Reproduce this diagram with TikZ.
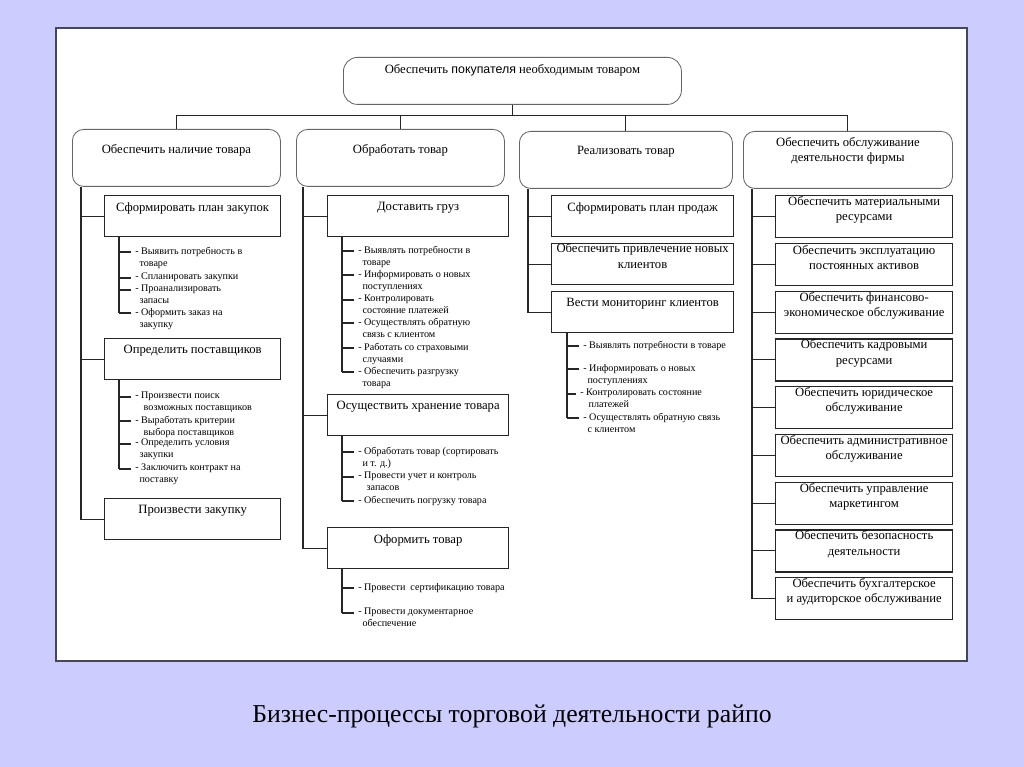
\documentclass[tikz,border=0pt]{standalone}
\usepackage{fontspec}
\setmainfont{Liberation Serif}
\newfontfamily\sansfnt{Liberation Sans}
\usetikzlibrary{positioning}
\definecolor{slidebg}{RGB}{204,204,255}
\definecolor{framecol}{RGB}{70,70,90}
\newcommand{\cont}{\hspace*{3pt}}
\begin{document}
\begin{tikzpicture}[x=0.025cm, y=-0.025cm,
    goalbox/.style={draw=black!60, line width=0.6pt, rounded corners=10pt, anchor=north west,
        minimum width=338*0.025cm, minimum height=47*0.025cm, inner sep=0pt},
    areabox/.style={draw=black!60, line width=0.6pt, rounded corners=8pt, anchor=north west,
        minimum width=#1*0.025cm, minimum height=57*0.025cm, inner sep=0pt},
    taskbox/.style={draw=black!85, line width=0.9pt, anchor=north west,
        minimum width=#1*0.025cm, minimum height=41*0.025cm, inner sep=0pt},
    boxtxt/.style={font=\fontsize{9}{10.8}\selectfont, align=center, inner sep=0pt},
    itemtxt/.style={font=\fontsize{7.2}{8.5}\selectfont, align=left, anchor=north west, inner sep=0pt},
    link/.style={draw=black!85, line width=0.8pt},
]
    % slide and frame
    \fill[slidebg] (0,0) rectangle (1024,767);
    \draw[framecol, line width=1pt, fill=white] (56,28) rectangle (967,661);

    % goal and the four areas
    \node[goalbox] (goal) at (343,57) {};
    \node[boxtxt] (goaltxt) at ([shift={(0,13)}]goal.north)
        {Обеспечить {\sansfnt\fontsize{8.8}{10}\selectfont покупателя} необходимым товаром};
    \node[areabox=208] (b1) at (72,129) {};
    \node[areabox=208] (b2) at (296,129) {};
    \node[areabox=213] (b3) at (519,131) {};
    \node[areabox=209] (b4) at (743,131) {};
    \node[boxtxt] (b1txt) at ([shift={(0,21)}]b1.north) {Обеспечить наличие товара};
    \node[boxtxt] (b2txt) at ([shift={(0,21)}]b2.north) {Обработать товар};
    \node[boxtxt] (b3txt) at ([shift={(0,21)}]b3.north) {Реализовать товар};
    \node[boxtxt] (b4txt) at ([shift={(0,20)}]b4.north) {Обеспечить обслуживание\\деятельности фирмы};
    \coordinate (bus) at ([shift={(0,11)}]goal.south);
    \draw[link] (goal.south) -- (bus);
    \foreach \b in {b1,b2,b3,b4}
        \draw[link] (\b.north) |- (bus);

    % column 1
    \node[taskbox=176] (a1) at (104,195) {};
    \node[taskbox=176] (a2) at (104,338) {};
    \node[taskbox=176] (a3) at (104,498) {};
    \node[boxtxt] (a1txt) at ([shift={(0,13)}]a1.north) {Сформировать план закупок};
    \node[boxtxt] (a2txt) at ([shift={(0,13)}]a2.north) {Определить поставщиков};
    \node[boxtxt] (a3txt) at ([shift={(0,13)}]a3.north) {Произвести закупку};
    \coordinate (t1) at ([shift={(9,0)}]b1.south west);
    \draw[link] (t1) |- (a3.west);
    \foreach \s in {a1,a2}
        \draw[link] (\s.west) -- (\s.west -| t1);

    \node[itemtxt] (p1) at (135,247) {- Выявить потребность в\\\cont товаре};
    \node[itemtxt] (p2) at (135,273) {- Спланировать закупки};
    \node[itemtxt] (p3) at (135,285) {- Проанализировать\\\cont запасы};
    \node[itemtxt] (p4) at (135,308) {- Оформить заказ на\\\cont закупку};
    \node[itemtxt] (q1) at (135,392) {- Произвести поиск\\\cont\cont возможных поставщиков};
    \node[itemtxt] (q2) at (135,416) {- Выработать критерии\\\cont\cont выбора поставщиков};
    \node[itemtxt] (q3) at (135,439) {- Определить условия\\\cont закупки};
    \node[itemtxt] (q4) at (135,464) {- Заключить контракт на\\\cont поставку};
    \coordinate (k1) at ([shift={(15,0)}]a1.south west);
    \coordinate (k2) at ([shift={(15,0)}]a2.south west);
    \foreach \s in {p1,p2,p3,p4} {
        \coordinate (tk\s) at ([shift={(-4,5)}]\s.north west);
        \draw[link] (tk\s) -- (tk\s -| k1);
    }
    \foreach \s in {q1,q2,q3,q4} {
        \coordinate (tk\s) at ([shift={(-4,5)}]\s.north west);
        \draw[link] (tk\s) -- (tk\s -| k2);
    }
    \draw[link] (k1) -- (k1 |- tkp4);
    \draw[link] (k2) -- (k2 |- tkq4);

    % column 2
    \node[taskbox=181] (c1) at (327,195) {};
    \node[taskbox=181] (c2) at (327,394) {};
    \node[taskbox=181] (c3) at (327,527) {};
    \node[boxtxt] (c1txt) at ([shift={(0,13)}]c1.north) {Доставить груз};
    \node[boxtxt] (c2txt) at ([shift={(0,13)}]c2.north) {Осуществить хранение товара};
    \node[boxtxt] (c3txt) at ([shift={(0,13)}]c3.north) {Оформить товар};
    \coordinate (t2) at ([shift={(7,0)}]b2.south west);
    \draw[link] (t2) |- (c3.west);
    \foreach \s in {c1,c2}
        \draw[link] (\s.west) -- (\s.west -| t2);

    \node[itemtxt] (r1) at (358,246) {- Выявлять потребности в\\\cont товаре};
    \node[itemtxt] (r2) at (358,270) {- Информировать о новых\\\cont поступлениях};
    \node[itemtxt] (r3) at (358,295) {- Контролировать\\\cont состояние платежей};
    \node[itemtxt] (r4) at (358,318) {- Осуществлять обратную\\\cont связь с клиентом};
    \node[itemtxt] (r5) at (358,343) {- Работать со страховыми\\\cont случаями};
    \node[itemtxt] (r6) at (358,367) {- Обеспечить разгрузку\\\cont товара};
    \node[itemtxt] (s1) at (358,447) {- Обработать товар (сортировать\\\cont и т. д.)};
    \node[itemtxt] (s2) at (358,472) {- Провести учет и контроль\\\cont\cont запасов};
    \node[itemtxt] (s3) at (358,496) {- Обеспечить погрузку товара};
    \node[itemtxt] (u1) at (358,583) {- Провести\ \ сертификацию товара};
    \node[itemtxt] (u2) at (358,608) {- Провести документарное\\\cont обеспечение};
    \coordinate (k3) at ([shift={(15,0)}]c1.south west);
    \coordinate (k4) at ([shift={(15,0)}]c2.south west);
    \coordinate (k5) at ([shift={(15,0)}]c3.south west);
    \foreach \s in {r1,r2,r3,r4,r5,r6} {
        \coordinate (tk\s) at ([shift={(-4,5)}]\s.north west);
        \draw[link] (tk\s) -- (tk\s -| k3);
    }
    \foreach \s in {s1,s2,s3} {
        \coordinate (tk\s) at ([shift={(-4,5)}]\s.north west);
        \draw[link] (tk\s) -- (tk\s -| k4);
    }
    \foreach \s in {u1,u2} {
        \coordinate (tk\s) at ([shift={(-4,5)}]\s.north west);
        \draw[link] (tk\s) -- (tk\s -| k5);
    }
    \draw[link] (k3) -- (k3 |- tkr6);
    \draw[link] (k4) -- (k4 |- tks3);
    \draw[link] (k5) -- (k5 |- tku2);

    % column 3
    \node[taskbox=182] (e1) at (551,195) {};
    \node[taskbox=182] (e2) at (551,243) {};
    \node[taskbox=182] (e3) at (551,291) {};
    \node[boxtxt] (e1txt) at ([shift={(0,13)}]e1.north) {Сформировать план продаж};
    \node[boxtxt] (e2txt) at ([shift={(0,13)}]e2.north) {Обеспечить привлечение новых\\клиентов};
    \node[boxtxt] (e3txt) at ([shift={(0,13)}]e3.north) {Вести мониторинг клиентов};
    \coordinate (t3) at ([shift={(9,0)}]b3.south west);
    \draw[link] (t3) |- (e3.west);
    \foreach \s in {e1,e2}
        \draw[link] (\s.west) -- (\s.west -| t3);

    \node[itemtxt] (v1) at (583,341) {- Выявлять потребности в товаре};
    \node[itemtxt] (v2) at (583,364) {- Информировать о новых\\\cont поступлениях};
    \node[itemtxt] (v3) at (580,389) {- Контролировать состояние\\\cont\cont платежей};
    \node[itemtxt] (v4) at (583,413) {- Осуществлять обратную связь\\\cont с клиентом};
    \coordinate (k6) at ([shift={(16,0)}]e3.south west);
    \foreach \s in {v1,v2,v3,v4} {
        \coordinate (tk\s) at ([shift={(-4,5)}]\s.north west);
        \draw[link] (tk\s) -- (tk\s -| k6);
    }
    \draw[link] (k6) -- (k6 |- tkv4);

    % column 4
    \coordinate (t4) at ([shift={(9,0)}]b4.south west);
    \foreach \txt [count=\i] in {{Обеспечить материальными\\ресурсами},
            {Обеспечить эксплуатацию\\постоянных активов},
            {Обеспечить финансово-\\экономическое обслуживание},
            {Обеспечить кадровыми\\ресурсами},
            {Обеспечить юридическое\\обслуживание},
            {Обеспечить административное\\обслуживание},
            {Обеспечить управление\\маркетингом},
            {Обеспечить безопасность\\деятельности},
            {Обеспечить бухгалтерское\\и аудиторское обслуживание}} {
        \pgfmathsetmacro{\ytop}{195+(\i-1)*47.75}
        \node[taskbox=177, minimum height=42*0.025cm] (d\i) at (775,\ytop) {};
        \node[boxtxt] (dt\i) at ([shift={(0,15)}]d\i.north) {\txt};
        \draw[link] (d\i.west) -- (d\i.west -| t4);
    }
    \draw[link] (t4) -- (t4 |- d9.west);

    % caption
    \node[font=\fontsize{18.3}{22}\selectfont] (title) at (512,716) {Бизнес-процессы торговой деятельности райпо};
\end{tikzpicture}
\end{document}
